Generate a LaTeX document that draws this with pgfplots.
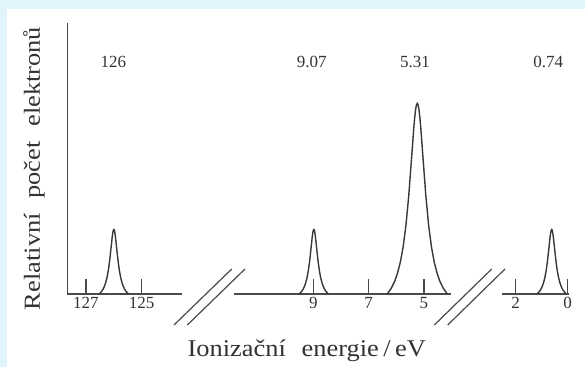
\documentclass[border=0pt]{standalone}
\usepackage{fontspec}
\setmainfont{Liberation Serif}
\usepackage{graphicx}
\usepackage{pgfplots}
\pgfplotsset{compat=1.18}
\definecolor{bgblue}{HTML}{E1F3FB}
\definecolor{linegray}{HTML}{4A4A4A}
\definecolor{peakgray}{HTML}{383838}
\definecolor{txtgray}{HTML}{333333}
\newcommand{\tickfont}{\fontsize{17}{20}\selectfont}
\pgfplotsset{brk/.style={
  scale only axis, height=271.3pt, ymin=0, ymax=271.3,
  x dir=reverse, clip=false,
  axis x line*=bottom,
  every outer x axis line/.append style={-},
  every outer y axis line/.append style={-},
  every inner x axis line/.append style={-},
  every inner y axis line/.append style={-},
  axis line style={-, draw=linegray, line width=1.3pt},
  xtick style={draw=linegray, line width=1.3pt},
  ytick=\empty,
  xticklabel style={font=\tickfont, text=txtgray},
  /pgf/number format/assume math mode=true,
  anchor=south west,
}}
\begin{document}
\begin{tikzpicture}
\path[use as bounding box] (0pt,0pt) rectangle (585pt,367pt);
\fill[bgblue] (0pt,0pt) rectangle (585pt,367pt);
\fill[white] (6.7pt,0pt) rectangle (585pt,358pt);
% left segment
\begin{axis}[brk, at={(67.3pt,73pt)}, width=114.4pt,
  xmin=123.564, xmax=127.671, xtick={125,127},
  axis y line*=left, axis line style={-},
  tick align=inside, major tick length=15pt]
\addplot[peakgray, line width=1.4pt] coordinates {
(125.47,0) (125.54,1.9) (125.6,4.2) (125.65,6.9) (125.7,10.7) (125.75,15.9) (125.8,23.2) (125.85,33.4) (125.9,46.2) (125.94,56.6) (125.955,59.8) (125.97,62.4) (125.985,64.0) (126,64.5)
(126.015,64.0) (126.03,62.4) (126.045,59.8) (126.06,56.6) (126.1,46.2) (126.15,33.4) (126.2,23.2) (126.25,15.9) (126.3,10.7) (126.35,6.9) (126.4,4.2) (126.46,1.9) (126.53,0)};
\node[anchor=base, font=\tickfont, text=txtgray] at (axis cs:126.02,226) {126};
\end{axis}
% middle segment
\begin{axis}[brk, at={(234pt,73pt)}, width=217pt,
  xmin=4.024, xmax=11.865, xtick={5,7,9},
  axis y line=none, axis line style={-},
  tick align=inside, major tick length=15pt]
\addplot[peakgray, line width=1.4pt] coordinates {
(8.45,0) (8.52,1.9) (8.58,4.2) (8.63,6.9) (8.68,10.7) (8.73,15.9) (8.78,23.2) (8.83,33.4) (8.88,46.2) (8.92,56.6) (8.935,59.8) (8.95,62.4) (8.965,64.0) (8.98,64.5)
(8.995,64.0) (9.01,62.4) (9.025,59.8) (9.04,56.6) (9.08,46.2) (9.13,33.4) (9.18,23.2) (9.23,15.9) (9.28,10.7) (9.33,6.9) (9.38,4.2) (9.44,1.9) (9.51,0)};
\addplot[peakgray, line width=1.4pt] coordinates {
(4.155,0) (4.299,5.6) (4.422,12.5) (4.524,20.5) (4.627,31.5) (4.729,46.8) (4.832,68.6) (4.934,98.6) (5.037,136.6) (5.119,167.3) (5.150,176.8) (5.180,184.3) (5.211,189.0) (5.242,190.6)
(5.273,189.0) (5.304,184.3) (5.334,176.8) (5.365,167.3) (5.447,136.6) (5.55,98.6) (5.652,68.6) (5.755,46.8) (5.857,31.5) (5.96,20.5) (6.062,12.5) (6.185,5.6) (6.329,0)};
\node[anchor=base, font=\tickfont, text=txtgray] at (axis cs:9.058,226) {9.07};
\node[anchor=base, font=\tickfont, text=txtgray] at (axis cs:5.325,226) {5.31};
\end{axis}
% right segment
\begin{axis}[brk, at={(502.3pt,73pt)}, width=66.7pt,
  xmin=-0.05, xmax=2.515, xtick={0,2},
  axis y line=none, axis line style={-},
  tick align=inside, major tick length=15pt]
\addplot[peakgray, line width=1.4pt] coordinates {
(0.047,0) (0.122,1.9) (0.187,4.2) (0.24,6.9) (0.294,10.7) (0.347,15.9) (0.401,23.2) (0.454,33.4) (0.508,46.2) (0.551,56.6) (0.567,59.8) (0.583,62.4) (0.599,64.0) (0.615,64.5)
(0.631,64.0) (0.647,62.4) (0.663,59.8) (0.679,56.6) (0.722,46.2) (0.776,33.4) (0.829,23.2) (0.883,15.9) (0.936,10.7) (0.99,6.9) (1.043,4.2) (1.108,1.9) (1.183,0)};
\node[anchor=base, font=\tickfont, text=txtgray] at (axis cs:0.746,226) {0.74};
\end{axis}
% axis break marks
\draw[linegray, line width=1.2pt] (174pt,42pt) -- (231.7pt,98pt);
\draw[linegray, line width=1.2pt] (187.3pt,42pt) -- (245pt,98pt);
\draw[linegray, line width=1.2pt] (434.3pt,42pt) -- (491.7pt,98pt);
\draw[linegray, line width=1.2pt] (447.7pt,42pt) -- (505pt,98pt);
% axis titles
\node[anchor=base, text=txtgray, inner sep=0pt] at (306.7pt,11pt) {\scalebox{1.1}[1]{\fontsize{24}{28}\selectfont Ionizační\hspace{0.6em}energie\,/\,eV}};
\node[rotate=90, text=txtgray, inner sep=0pt] at (34pt,198.5pt) {\scalebox{1.15}[1]{\fontsize{23}{27}\selectfont Relativní\hspace{0.55em}počet\hspace{0.55em}elektronů}};
\end{tikzpicture}
\end{document}
